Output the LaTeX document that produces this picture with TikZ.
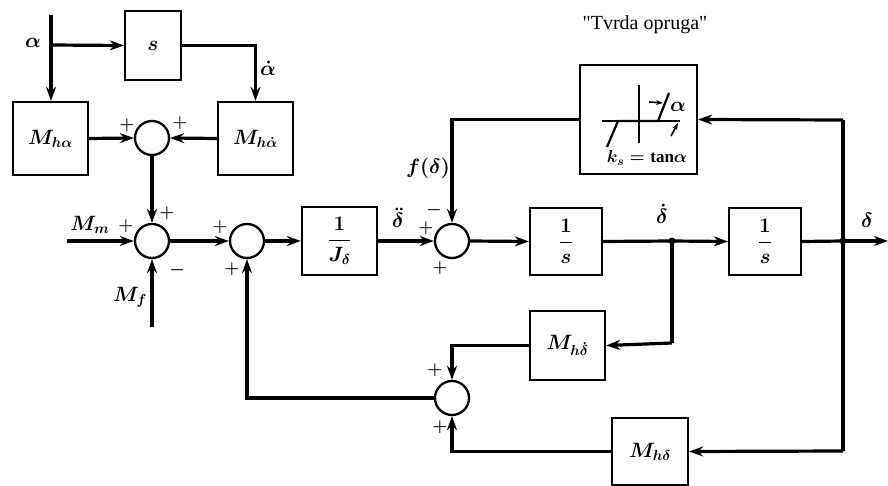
\documentclass[tikz,border=0pt]{standalone}
\usepackage{amsmath}
\usepackage{fontspec}
\setmainfont{Liberation Serif}
\newfontfamily\titlefont{Liberation Serif}[Ligatures=TeXOff]
\usetikzlibrary{arrows.meta}
\begin{document}
\begin{tikzpicture}[x=1pt,y=-1pt,
  font=\fontsize{20}{24}\selectfont\boldmath,
  blk/.style={draw, line width=2.3pt, inner sep=0pt},
  sumc/.style={draw, circle, line width=2.3pt, minimum size=34pt, inner sep=0pt},
  ln/.style={line width=3.2pt},
  conn/.style={line width=3.2pt, -{Stealth[length=14pt,width=10pt]}},
  sgn/.style={inner sep=0pt, font=\fontsize{19}{22}\selectfont\boldmath},
  lbl/.style={inner sep=0pt},
  dot/.style={circle, fill, inner sep=0pt, minimum size=7pt}]
\useasboundingbox (0,0) rectangle (888,486);

% blocks
\node[blk, minimum width=56pt, minimum height=69pt] (sb) at (153,45.5) {$s$};
\node[blk, minimum width=75pt, minimum height=73pt] (mha) at (50.5,138.5) {$M_{h\alpha}$};
\node[blk, minimum width=75pt, minimum height=73pt] (mhad) at (255.5,138.5) {$M_{h\dot\alpha}$};
\node[blk, minimum width=75pt, minimum height=68pt] (jd) at (339.5,241) {$\dfrac{1}{J_\delta}$};
\node[blk, minimum width=72pt, minimum height=67pt] (i1) at (566,241.5) {$\dfrac{1}{s}$};
\node[blk, minimum width=72pt, minimum height=67pt] (i2) at (765,241.5) {$\dfrac{1}{s}$};
\node[blk, minimum width=117pt, minimum height=109pt] (nl) at (638.5,119.5) {};
\node[blk, minimum width=75pt, minimum height=69pt] (mhdd) at (567.5,345.5) {$M_{h\dot\delta}$};
\node[blk, minimum width=76pt, minimum height=67pt] (mhd) at (650,451.5) {$M_{h\delta}$};

% summing junctions
\node[sumc] (s1) at (152,138) {};
\node[sumc] (s2) at (152,241) {};
\node[sumc] (s3) at (247,241) {};
\node[sumc] (s4) at (452,241) {};
\node[sumc] (s5) at (452,398) {};

% free ends and branch points
\coordinate (ain) at (51,15);
\coordinate (abr) at (51,45);
\coordinate (mmin) at (67,241);
\coordinate (mfin) at (152,327);
\node[dot] (d1) at (672,241) {};
\node[dot] (d2) at (843,241) {};
\coordinate (out) at (888,241);
\coordinate (c2t) at (843,120);
\coordinate (c2b) at (843,451);
\coordinate (c1b) at (672,343);

% connectors
\draw[conn] (ain) -- (ain |- mha.north);
\draw[conn] (abr) -- (sb.west);
\draw[conn] (sb.east) -| (mhad.north);
\draw[conn] (mha.east) -- (s1.west);
\draw[conn] (mhad.west) -- (s1.east);
\draw[conn] (s1.south) -- (s2.north);
\draw[conn] (mmin) -- (s2.west);
\draw[conn] (mfin) -- (s2.south);
\draw[conn] (s2.east) -- (s3.west);
\draw[conn] (s3.east) -- (jd.west);
\draw[conn] (jd.east) -- (s4.west);
\draw[conn] (s4.east) -- (i1.west);
\draw[ln] (i1.east) -- (d1.center);
\draw[conn] (d1.center) -- (i2.west);
\draw[ln] (i2.east) -- (d2.center);
\draw[conn] (d2.center) -- (out);
\draw[ln] (d2.center) -- (c2t);
\draw[conn] (c2t) -- (nl.east);
\draw[ln] (d2.center) -- (c2b);
\draw[conn] (c2b) -- (mhd.east);
\draw[conn] (nl.west) -| (s4.north);
\draw[ln] (d1.center) -- (c1b);
\draw[conn] (c1b) -- (mhdd.east);
\draw[conn] (mhdd.west) -| (s5.north);
\draw[conn] (mhd.west) -| (s5.south);
\draw[conn] (s5.west) -| (s3.south);

% nonlinearity sketch
\draw[line width=1.4pt] (602,121) -- (680,121);
\draw[line width=1.4pt] (639,85) -- (639,143);
\draw[line width=2.2pt] (607,147) -- (618,121) -- (658,121) -- (669,93);
\draw[line width=1.6pt, -{Stealth[length=7pt,width=5pt]}] (649,102) -- (663,103);
\draw[line width=1.6pt, -{Stealth[length=7pt,width=5pt]}] (671,136) -- (678,123);
\node[lbl] (nla) at (678,107) {$\alpha$};
\node[lbl, font=\fontsize{17}{20}\selectfont\boldmath] (ks) at (647,158) {$k_s = \mathrm{tan}\alpha$};

% labels
\node[lbl] (la) at (33,43) {$\alpha$};
\node[lbl] (lad) at (268,68) {$\dot\alpha$};
\node[lbl] (lmm) at (90,225) {$M_m$};
\node[lbl] (lmf) at (130,297) {$M_f$};
\node[lbl] (ldd) at (398,218) {$\ddot\delta$};
\node[lbl] (lf) at (428,168) {$f(\delta)$};
\node[lbl] (ld1) at (662,214) {$\dot\delta$};
\node[lbl] (ld) at (867,220) {$\delta$};
\node[lbl, font=\fontsize{20}{24}\titlefont] (title) at (645,25) {"Tvrda opruga"};

% signs
\node[sgn] at (127,125) {$+$};
\node[sgn] at (180,123) {$+$};
\node[sgn] at (126,226) {$+$};
\node[sgn] at (167,213) {$+$};
\node[sgn] at (177,270) {$-$};
\node[sgn] at (220,227) {$+$};
\node[sgn] at (232,269) {$+$};
\node[sgn] at (426,228) {$+$};
\node[sgn] at (434,210) {$-$};
\node[sgn] at (440,268) {$+$};
\node[sgn] at (435,370) {$+$};
\node[sgn] at (440,427) {$+$};
\end{tikzpicture}
\end{document}
